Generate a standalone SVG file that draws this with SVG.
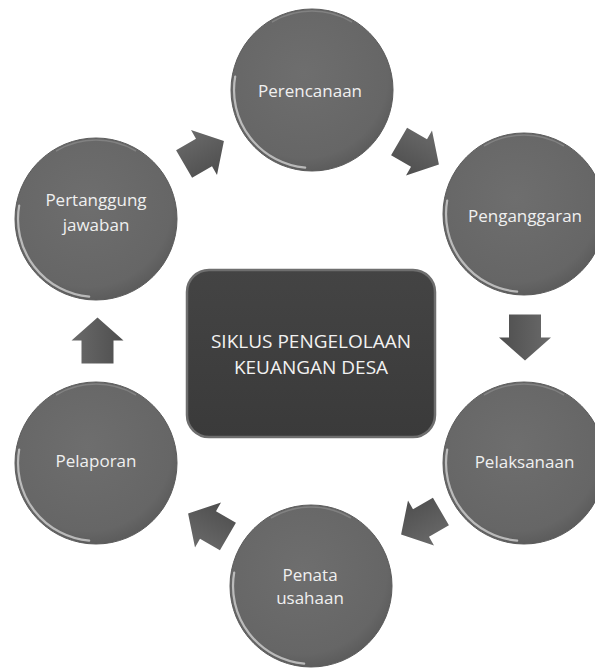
<svg xmlns="http://www.w3.org/2000/svg" xmlns:xlink="http://www.w3.org/1999/xlink" width="595" height="670" viewBox="0 0 595 670">
  <style>
    .lbl { font-family: "Open Sans", "Noto Sans", "Liberation Sans", sans-serif; font-size: 17px; fill: #f0f0f0; text-anchor: middle; }
    .title { font-family: "Open Sans", "Noto Sans", "Liberation Sans", sans-serif; font-size: 19px; fill: #f2f2f2; text-anchor: middle; }
    .arrow { fill: url(#arrowGrad); }
  </style>
  <defs>
    <radialGradient id="ballGrad" cx="0.45" cy="0.4" r="0.65">
      <stop offset="0" stop-color="#6e6e6e"/>
      <stop offset="0.8" stop-color="#666666"/>
      <stop offset="1" stop-color="#575757"/>
    </radialGradient>
    <linearGradient id="arrowGrad" x1="0" y1="0" x2="0" y2="1">
      <stop offset="0" stop-color="#6a6a6a"/>
      <stop offset="1" stop-color="#4e4e4e"/>
    </linearGradient>
    <linearGradient id="rectGrad" x1="0" y1="0" x2="0" y2="1">
      <stop offset="0" stop-color="#444444"/>
      <stop offset="1" stop-color="#3a3a3a"/>
    </linearGradient>
    <g id="ball">
      <circle r="81" fill="url(#ballGrad)" stroke="#5a5a5a" stroke-width="1"/>
      <path d="M-76.8,-13.5 A78,78 0 0,0 -6.8,77.7" fill="none" stroke="#e0e0e0" stroke-width="2.2" stroke-linecap="round" opacity="0.7"/>
      <path d="M-40,-68 A79,79 0 0,1 40,-68" fill="none" stroke="#9a9a9a" stroke-width="1.5" opacity="0.5"/>
    </g>
    <path id="arr" d="M-23,-16 H0 V-26 L23,0 L0,26 V16 H-23 Z"/>
  </defs>
  <rect width="595" height="670" fill="#ffffff"/>

  <g id="connectors">
    <use xlink:href="#arr" class="arrow" transform="translate(204,152.5) rotate(-30)"/>
    <use xlink:href="#arr" class="arrow" transform="translate(419,153) rotate(30)"/>
    <use xlink:href="#arr" class="arrow" transform="translate(525,337.5) rotate(90)"/>
    <use xlink:href="#arr" class="arrow" transform="translate(421,523) rotate(150)"/>
    <use xlink:href="#arr" class="arrow" transform="translate(208,525) rotate(210)"/>
    <use xlink:href="#arr" class="arrow" transform="translate(97.5,340.5) rotate(-90)"/>
  </g>

  <g id="center">
    <rect x="187" y="270" width="248" height="167" rx="22" fill="url(#rectGrad)" stroke="#6e6e6e" stroke-width="2.5"/>
    <text class="title" x="311" y="348">SIKLUS PENGELOLAAN</text>
    <text class="title" x="311" y="374">KEUANGAN DESA</text>
  </g>

  <g id="perencanaan">
    <use xlink:href="#ball" x="312" y="90"/>
    <text class="lbl" x="310" y="97">Perencanaan</text>
  </g>
  <g id="penganggaran">
    <use xlink:href="#ball" x="524" y="214"/>
    <text class="lbl" x="525" y="222">Penganggaran</text>
  </g>
  <g id="pelaksanaan">
    <use xlink:href="#ball" x="524" y="463"/>
    <text class="lbl" x="524.5" y="468">Pelaksanaan</text>
  </g>
  <g id="penatausahaan">
    <use xlink:href="#ball" x="311" y="586"/>
    <text class="lbl" x="310" y="581">Penata</text>
    <text class="lbl" x="310" y="604">usahaan</text>
  </g>
  <g id="pelaporan">
    <use xlink:href="#ball" x="96" y="463"/>
    <text class="lbl" x="96" y="467">Pelaporan</text>
  </g>
  <g id="pertanggungjawaban">
    <use xlink:href="#ball" x="96" y="219"/>
    <text class="lbl" x="96" y="206">Pertanggung</text>
    <text class="lbl" x="96" y="231">jawaban</text>
  </g>
</svg>
